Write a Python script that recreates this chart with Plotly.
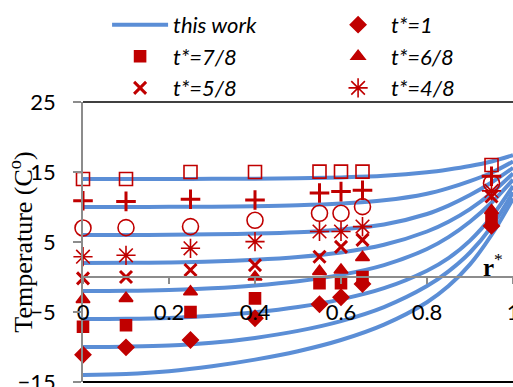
import plotly.graph_objects as go

# ---- data ----
r_curve = [0, 0.1, 0.2, 0.3, 0.4, 0.5, 0.6, 0.7, 0.8, 0.85, 0.9, 0.95, 1.0]
curve_14 = [14.0, 14.0, 14.0, 14.02, 14.05, 14.1, 14.22, 14.45, 14.95, 15.35, 15.85, 16.5, 17.4]
curve_10 = [10.0, 10.0, 10.02, 10.05, 10.12, 10.25, 10.5, 10.95, 11.9, 12.7, 13.7, 14.9, 16.5]
curve_6 = [6.0, 6.0, 6.04, 6.1, 6.2, 6.4, 6.8, 7.5, 9.0, 10.2, 11.7, 13.5, 15.6]
curve_2 = [2.0, 2.02, 2.08, 2.2, 2.45, 2.85, 3.5, 4.6, 6.5, 7.9, 9.7, 12.0, 14.8]
curve_m2 = [-2.0, -1.97, -1.85, -1.6, -1.2, -0.6, 0.3, 1.7, 4.0, 5.7, 7.9, 10.6, 13.9]
curve_m6 = [-6.0, -5.97, -5.85, -5.55, -5.05, -4.3, -3.2, -1.6, 0.9, 2.7, 5.2, 8.6, 13.0]
curve_m10 = [-10.0, -9.95, -9.8, -9.4, -8.7, -7.7, -6.3, -4.3, -1.3, 0.8, 3.5, 7.2, 12.1]
curve_m14 = [-14.0, -13.85, -13.45, -12.75, -11.8, -10.6, -9.0, -6.8, -3.6, -1.3, 1.8, 6.0, 11.2]
curves = [curve_14, curve_10, curve_6, curve_2, curve_m2, curve_m6, curve_m10, curve_m14]

r_meas = [0, 0.1, 0.25, 0.4, 0.55, 0.6, 0.65, 0.95]
t_1 = [-11.1, -10.05, -9.0, -5.9, -3.9, -2.9, -1.0, 7.3]
t_7_8 = [-7.1, -6.9, -5.0, -3.05, -0.9, -0.9, 0.0, 8.4]
t_6_8 = [-3.2, -3.05, -2.1, 0.0, 0.8, 1.0, 2.8, 9.5]
t_5_8 = [-0.2, 0.0, 1.0, 1.7, 2.9, 4.3, 5.3, 11.5]
t_4_8 = [2.9, 3.1, 4.1, 5.05, 6.5, 6.5, 7.2, 12.3]
t_3_8 = [7.0, 7.05, 7.2, 8.1, 9.1, 9.1, 10.05, 13.4]
t_2_8 = [10.9, 10.8, 11.1, 11.0, 12.0, 12.2, 12.4, 14.4]
t_1_8 = [14.0, 14.0, 15.0, 15.0, 15.05, 15.05, 15.05, 16.0]

x_ticks = [0, 0.2, 0.4, 0.6, 0.8, 1]
x_ticktext = ["0", "0.2", "0.4", "0.6", "0.8", "1"]
y_ticks = [-15, -5, 5, 15, 25]

# ---- style ----
BLUE = "#5B8ED6"
RED = "#C00000"
SANS = "Lato, 'Open Sans', sans-serif"
SERIF = "'Liberation Serif', 'DejaVu Serif', serif"

fig = go.Figure()

for i, c in enumerate(curves):
    fig.add_trace(go.Scatter(
        x=r_curve, y=c, mode="lines", line=dict(color=BLUE, width=4, shape="spline"),
        name="this work", legendgroup="tw", showlegend=(i == 0), legend="legend"))

series = [
    ("t*=1", t_1, "diamond", 12, True, "legend2"),
    ("t*=7/8", t_7_8, "square", 11, True, "legend"),
    ("t*=6/8", t_6_8, "triangle-up", 12, True, "legend2"),
    ("t*=5/8", t_5_8, "x-thin-open", 12, True, "legend"),
    ("t*=4/8", t_4_8, "asterisk-open", 16, True, "legend2"),
    ("t*=3/8", t_3_8, "circle-open", 16, False, "legend"),
    ("t*=2/8", t_2_8, "cross-thin-open", 14, False, "legend"),
    ("t*=1/8", t_1_8, "square-open", 13, False, "legend"),
]
for name, vals, sym, size, show, lg in series:
    fig.add_trace(go.Scatter(
        x=r_meas, y=vals, mode="markers", name=name, showlegend=show, cliponaxis=False,
        legend=lg,
        marker=dict(symbol=sym, size=size, color=RED,
                    line=dict(color=RED, width=3 if "thin" in sym else 1.6))))

legend_common = dict(orientation="v", y=0.99, xanchor="left", yanchor="top",
                     yref="container", itemwidth=56,
                     font=dict(family=SANS, size=22, style="italic"),
                     bgcolor="rgba(0,0,0,0)", traceorder="normal")

fig.update_layout(
    width=513, height=387,
    margin=dict(l=83, r=0, t=102, b=5, autoexpand=False),
    paper_bgcolor="white", plot_bgcolor="white",
    font=dict(family=SANS, size=22, color="black"),
    showlegend=True,
    legend=dict(x=0.056, **legend_common),
    legend2=dict(x=0.563, **legend_common),
    xaxis=dict(range=[0, 1], domain=[0, 1], anchor="free", position=0.375,
               showline=True, linecolor="#8C8C8C", linewidth=1.5,
               ticks="outside", ticklen=6, tickcolor="#8C8C8C", tickwidth=1.5,
               tickvals=x_ticks, ticktext=x_ticktext, ticklabelstandoff=10,
               ticklabeloverflow="allow",
               showgrid=False, zeroline=False, tickfont=dict(size=22)),
    yaxis=dict(range=[-15, 25], showline=True, linecolor="#8C8C8C", linewidth=1.5,
               ticks="outside", ticklen=8, tickcolor="#8C8C8C", tickwidth=1.5,
               tickvals=y_ticks, ticklabelstandoff=13, ticklabeloverflow="allow",
               showgrid=False, zeroline=False, tickfont=dict(size=22)),
    shapes=[
        dict(type="line", xref="paper", yref="paper", x0=0, x1=1, y0=1, y1=1,
             line=dict(color="black", width=1.5)),
        dict(type="line", xref="paper", yref="paper", x0=0, x1=1, y0=0, y1=0,
             line=dict(color="black", width=2)),
    ],
    annotations=[
        dict(text="Temperature (C<sup>o</sup>)", xref="paper", yref="paper",
             x=-0.145, y=0.5, textangle=-90, showarrow=False,
             font=dict(family=SERIF, size=26), xanchor="center", yanchor="middle"),
        dict(text="<b>r</b><sup>*</sup>", xref="paper", yref="paper",
             x=0.953, y=0.418, showarrow=False,
             font=dict(family=SERIF, size=25), xanchor="center", yanchor="middle"),
    ],
)

fig.write_html("out.html")
